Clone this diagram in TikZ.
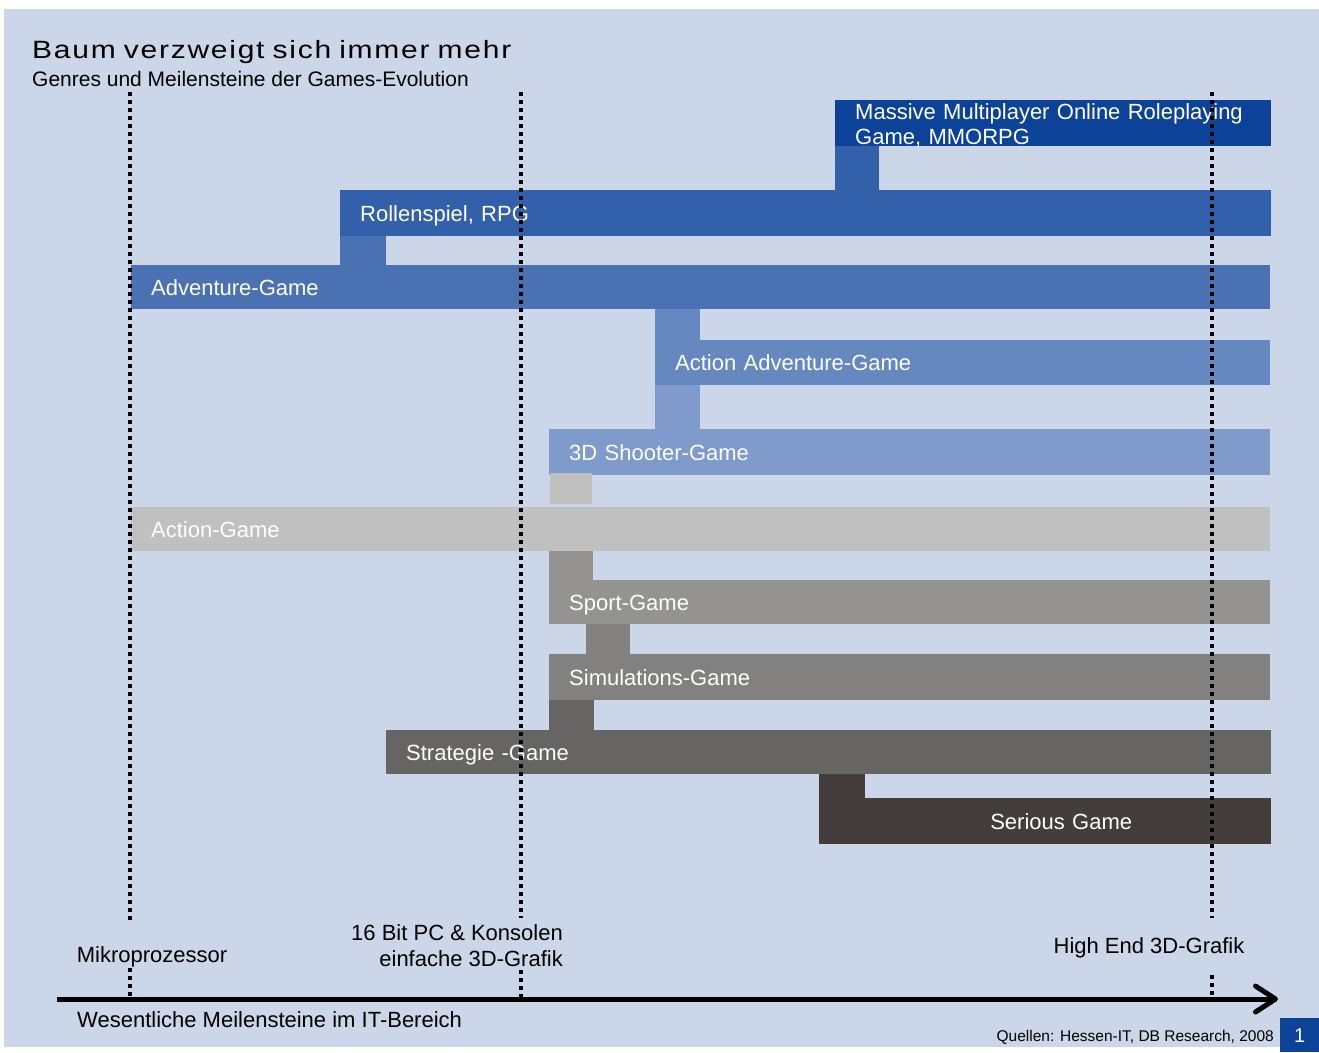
\documentclass[tikz,border=0pt]{standalone}
\usepackage{fontspec}
\setmainfont{Liberation Sans}
\newfontfamily\headfamily[FakeStretch=1.2, LetterSpace=7, WordSpace=0.8]{Liberation Sans}
\usetikzlibrary{arrows.meta,positioning}

\definecolor{bgblue}{HTML}{CBD6E8}
\definecolor{mmoc}{HTML}{0D4299}
\definecolor{rpgc}{HTML}{3260AA}
\definecolor{advc}{HTML}{4A72B3}
\definecolor{actadvc}{HTML}{6688C0}
\definecolor{shooterc}{HTML}{7E9BCB}
\definecolor{actionc}{HTML}{C0C0C0}
\definecolor{sportc}{HTML}{959391}
\definecolor{simc}{HTML}{828180}
\definecolor{stratc}{HTML}{676563}
\definecolor{seriousc}{HTML}{433E3B}

\newcommand{\genrefont}{\fontsize{22}{25}\selectfont}
\newcommand{\headfont}{\headfamily\fontsize{25}{30}\selectfont}
\newcommand{\subheadfont}{\fontsize{21}{25}\selectfont}
\newcommand{\srcfont}{\fontsize{15.5}{18}\selectfont}

\begin{document}
\begin{tikzpicture}[
    x=1pt, y=-1pt,
    bar/.style={rectangle, anchor=north west, inner xsep=20pt, inner ysep=0pt,
        align=left, font=\genrefont, text=white, text height=18pt, text depth=2pt},
    lbl/.style={inner sep=0pt, font=\genrefont, text=black},
    milestone/.style={line width=4pt, dash pattern=on 3.5pt off 4.5pt, black},
    axis/.style={line width=5pt, black, -{Straight Barb[length=20pt, width=26pt, round]}}
]
\useasboundingbox (0,0) rectangle (1319,1052);

% Background
\fill[bgblue] (4,9) rectangle (1319,1047);

% Title
\node[anchor=base west, inner sep=0pt, font=\headfont] (title) at (32,58) {Baum verzweigt sich immer mehr};
\node[anchor=base west, inner sep=0pt, font=\subheadfont] (subtitle) at (32,86) {Genres und Meilensteine der Games-Evolution};

% Genre bars
\node[bar, fill=mmoc, minimum height=46pt, text width=396pt, text height=19pt, text depth=27pt] (mmo) at (835,100)
    {Massive Multiplayer Online Roleplaying\\Game, MMORPG};
\node[bar, fill=rpgc, minimum height=46pt, text width=891pt] (rpg) at (340,190) {Rollenspiel, RPG};
\node[bar, fill=advc, minimum height=44pt, text width=1099pt] (adv) at (131,265) {Adventure-Game};
\node[bar, fill=actadvc, minimum height=45pt, text width=575pt] (actadv) at (655,340) {Action Adventure-Game};
\node[bar, fill=shooterc, minimum height=46pt, text width=681pt] (shooter) at (549,429) {3D Shooter-Game};
\node[bar, fill=actionc, minimum height=44pt, text width=1099pt] (action) at (131,507) {Action-Game};
\node[bar, fill=sportc, minimum height=44pt, text width=681pt] (sport) at (549,580) {Sport-Game};
\node[bar, fill=simc, minimum height=46pt, text width=681pt] (sim) at (549,654) {Simulations-Game};
\node[bar, fill=stratc, minimum height=44pt, text width=845pt] (strat) at (386,730) {Strategie -Game};
\node[bar, fill=seriousc, minimum height=46pt, text width=412pt, align=center] (serious) at (819,798)
    {\hspace*{32pt}Serious Game};

% Branches
\fill[rpgc] (mmo.south west) rectangle ([xshift=44pt]mmo.south west |- rpg.north);
\fill[advc] (rpg.south west) rectangle ([xshift=46pt]rpg.south west |- adv.north);
\fill[actadvc] (actadv.north west) rectangle ([xshift=45pt]actadv.north west |- adv.south);
\fill[shooterc] (actadv.south west) rectangle ([xshift=45pt]actadv.south west |- shooter.north);
\fill[actionc] ([xshift=1pt,yshift=2pt]shooter.south west) rectangle ([xshift=43pt,yshift=3pt]shooter.south west |- action.north);
\fill[sportc] (sport.north west) rectangle ([xshift=44pt]sport.north west |- action.south);
\fill[simc] ([xshift=37pt]sim.north west) rectangle ([xshift=81pt]sim.north west |- sport.south);
\fill[stratc] (sim.south west) rectangle ([xshift=45pt]sim.south west |- strat.north);
\fill[seriousc] (serious.north west) rectangle ([xshift=46pt]serious.north west |- strat.south);

% Milestone labels
\node[lbl] (mikro) at (152,957) {Mikroprozessor};
\node[lbl, anchor=east, align=right, font=\fontsize{22}{26}\selectfont] (konsole) at (563,946)
    {16 Bit PC \& Konsolen\\einfache 3D-Grafik};
\node[lbl] (highend) at (1149,948) {High End 3D-Grafik};

% Milestone lines
\coordinate (m1top) at (130,92);
\coordinate (m1end) at (130,920);
\coordinate (m1low) at (130,968);
\coordinate (m2top) at (520.5,92);
\coordinate (m2end) at (520.5,918);
\coordinate (m2low) at (520.5,970);
\coordinate (m3top) at (1211.5,92);
\coordinate (m3end) at (1211.5,918);
\coordinate (m3low) at (1211.5,975);
\draw[milestone] (m1top) -- (m1end);
\draw[milestone] (m2top) -- (m2end);
\draw[milestone] (m3top) -- (m3end);

% Time axis
\coordinate (axstart) at (57,999);
\coordinate (axend) at (1278,999);
\draw[milestone] (m1low) -- (m1low |- axstart);
\draw[milestone] (m2low) -- (m2low |- axstart);
\draw[milestone] (m3low) -- (m3low |- axstart);
\draw[axis] (axstart) -- (axend);
\node[lbl, anchor=west] (itlabel) at (77,1020) {Wesentliche Meilensteine im IT-Bereich};

% Source and page number
\node[lbl, anchor=east, font=\srcfont] (source) at (1274,1037) {Quellen: Hessen-IT, DB Research, 2008};
\node[rectangle, fill=mmoc, anchor=north west, minimum width=39pt, minimum height=34pt, inner sep=0pt,
    text=white, font=\fontsize{20}{24}\selectfont] (page) at (1280,1018) {1};

\end{tikzpicture}
\end{document}
